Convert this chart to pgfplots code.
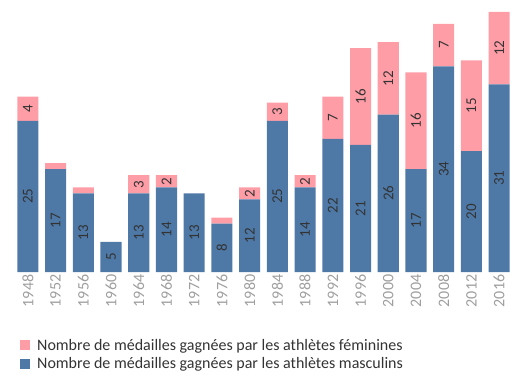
\documentclass[border=0pt]{standalone}
\usepackage{pgfplots}
\pgfplotsset{compat=1.18}
\usepackage{pgfplotstable}
\usepackage{fontspec}
\setmainfont{Carlito}
\definecolor{mblue}{HTML}{4E79A7}
\definecolor{fpink}{HTML}{FF9DA7}
\definecolor{lbl}{HTML}{333333}
\pgfplotstableread{
x m f
0 25 4
1 17 1
2 13 1
3 5 0
4 13 3
5 14 2
6 13 0
7 8 1
8 12 2
9 25 3
10 14 2
11 22 7
12 21 16
13 26 12
14 17 16
15 34 7
16 20 15
17 31 12
}\datatable
\begin{document}
\begin{tikzpicture}
\useasboundingbox (-14pt,-108pt) rectangle (504pt,272pt);
\begin{axis}[
  /pgf/number format/assume math mode=true,
  scale only axis, width=499pt, y=6.05pt,
  xmin=-0.5, xmax=17.5, ymin=0, ymax=43.3,
  axis line style={draw=none},
  ytick=\empty,
  xtick={0,...,17},
  xticklabels={1948,1952,1956,1960,1964,1968,1972,1976,1980,1984,1988,1992,1996,2000,2004,2008,2012,2016},
  major tick length=0pt,
  xticklabel style={rotate=90, anchor=east, text=gray!75, font=\fontsize{16}{16}\selectfont, inner sep=2.5pt},
  ybar stacked, bar width=0.76,
  visualization depends on={rawy\as\rawy},
  nodes near coords={\pgfmathtruncatemacro\showit{\rawy>1.5}\ifnum\showit=1 \pgfmathprintnumber{\rawy}\fi},
  every node near coord/.append style={rotate=90, anchor=center, font=\fontsize{15}{15}\selectfont, text=lbl},
  reverse legend,
  legend cell align=left,
  legend style={at={(0.012,-0.248)}, anchor=north west, draw=none, fill=none,
    font=\fontsize{16}{18}\selectfont, text=lbl, row sep=2pt, inner sep=0pt,
    /tikz/every odd column/.append style={column sep=5pt}},
]
\addplot[fill=mblue, draw=none, legend image code/.code={\fill[mblue] (0pt,-5pt) rectangle (10pt,5pt);}] table[x=x, y=m] {\datatable};
\addlegendentry{Nombre de médailles gagnées par les athlètes masculins}
\addplot[fill=fpink, draw=none, legend image code/.code={\fill[fpink] (0pt,-5pt) rectangle (10pt,5pt);}] table[x=x, y=f] {\datatable};
\addlegendentry{Nombre de médailles gagnées par les athlètes féminines}
\end{axis}
\end{tikzpicture}
\end{document}
